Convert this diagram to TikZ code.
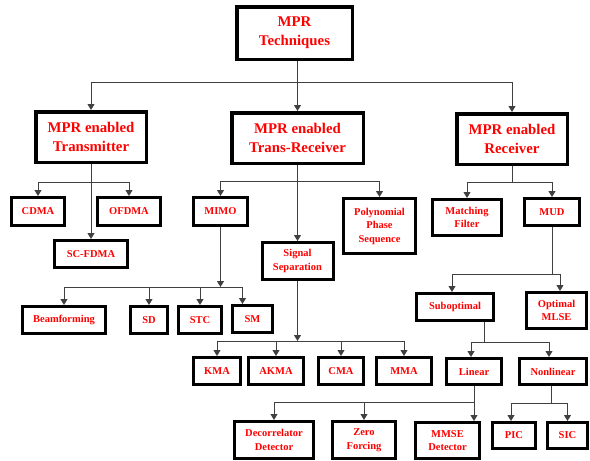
\documentclass[tikz,border=0pt]{standalone}
\usepackage{fontspec}
\setmainfont{Liberation Serif}
\usepackage{tikz}
\usetikzlibrary{arrows.meta}

\begin{document}
\begin{tikzpicture}
	[x=1pt,y=-1pt,>={Triangle[length=6pt,width=7pt]},
		main node/.style={rectangle,draw=black,line width=3.5pt,inner sep=0pt,align=center,text=red,
			font=\fontsize{14.8}{19}\selectfont\bfseries},
		leaf node/.style={rectangle,draw=black,line width=3pt,inner sep=0pt,align=center,text=red,
			font=\fontsize{10.5}{13.5}\selectfont\bfseries},
		link/.style={color=black!75,line width=1pt},
		hv/.style={to path={-| (\tikztotarget)}}]

	\useasboundingbox (0,0) rectangle (590,461);

	% top levels
	\node[main node, minimum width=115.5pt, minimum height=52.5pt] (T) at (294.5,33) {MPR\\Techniques};
	\node[main node, minimum width=110.5pt, minimum height=50.5pt] (TX) at (91,137) {MPR enabled\\Transmitter};
	\node[main node, minimum width=131.5pt, minimum height=50.5pt] (TRX) at (297.5,138) {MPR enabled\\Trans-Receiver};
	\node[main node, minimum width=110.5pt, minimum height=50.5pt] (RX) at (512,139) {MPR enabled\\Receiver};

	% transmitter side
	\node[leaf node, minimum width=53pt, minimum height=28pt] (CDMA) at (38,211.5) {CDMA};
	\node[leaf node, minimum width=63pt, minimum height=28pt] (OFDMA) at (129,211.5) {OFDMA};
	\node[leaf node, minimum width=73pt, minimum height=27pt] (SCFDMA) at (91,254) {SC-FDMA};

	% trans-receiver side
	\node[leaf node, minimum width=54pt, minimum height=28pt] (MIMO) at (220.5,211.5) {MIMO};
	\node[leaf node, minimum width=72pt, minimum height=55pt] (PPS) at (379.5,226) {Polynomial\\Phase\\Sequence};
	\node[leaf node, minimum width=71pt, minimum height=37pt] (SS) at (297.5,261) {Signal\\Separation};
	\node[leaf node, minimum width=83pt, minimum height=27pt] (BF) at (64,320) {Beamforming};
	\node[leaf node, minimum width=37pt, minimum height=27pt] (SD) at (149,320) {SD};
	\node[leaf node, minimum width=43pt, minimum height=27pt] (STC) at (200,320) {STC};
	\node[leaf node, minimum width=40pt, minimum height=27pt] (SM) at (252.5,319) {SM};
	\node[leaf node, minimum width=47pt, minimum height=27pt] (KMA) at (217,371) {KMA};
	\node[leaf node, minimum width=55pt, minimum height=27pt] (AKMA) at (276,371) {AKMA};
	\node[leaf node, minimum width=45pt, minimum height=27pt] (CMA) at (341,371) {CMA};
	\node[leaf node, minimum width=55pt, minimum height=27pt] (MMA) at (404,371) {MMA};

	% receiver side
	\node[leaf node, minimum width=69pt, minimum height=36pt] (MF) at (467,217.5) {Matching\\Filter};
	\node[leaf node, minimum width=55pt, minimum height=27pt] (MUD) at (552,212) {MUD};
	\node[leaf node, minimum width=77pt, minimum height=27pt] (SUB) at (455,307) {Suboptimal};
	\node[leaf node, minimum width=60pt, minimum height=36pt] (OPT) at (556.5,310.5) {Optimal\\MLSE};
	\node[leaf node, minimum width=55pt, minimum height=26pt] (LIN) at (474,371.5) {Linear};
	\node[leaf node, minimum width=67pt, minimum height=26pt] (NLIN) at (553,371.5) {Nonlinear};
	\node[leaf node, minimum width=79pt, minimum height=37pt] (DEC) at (274,440) {Decorrelator\\Detector};
	\node[leaf node, minimum width=63pt, minimum height=37pt] (ZF) at (364,440) {Zero\\Forcing};
	\node[leaf node, minimum width=64pt, minimum height=36pt] (MMSE) at (447.5,440.5) {MMSE\\Detector};
	\node[leaf node, minimum width=43pt, minimum height=26pt] (PIC) at (514,435.5) {PIC};
	\node[leaf node, minimum width=40pt, minimum height=26pt] (SIC) at (567.5,435.5) {SIC};

	% bus points
	\coordinate (b0) at (297.5,82);
	\coordinate (b1) at (91,182);
	\coordinate (b2) at (297.5,181);
	\coordinate (b3) at (220.5,287);
	\coordinate (b4) at (297.5,341);
	\coordinate (b5) at (512,182);
	\coordinate (b6) at (552,274);
	\coordinate (b7) at (484,342);
	\coordinate (b8) at (474,402);
	\coordinate (b9) at (551,403);

	\path[link,->]
	(T.south -| b0) edge (TRX.north)
	(b0) edge [hv] (TX.north)
	(b0) edge [hv] (RX.north)
	;
	\path[link,->]
	(TX.south) edge (SCFDMA.north)
	(b1) edge [hv] (CDMA.north)
	(b1) edge [hv] (OFDMA.north)
	;
	\path[link,->]
	(TRX.south) edge (SS.north)
	(b2) edge [hv] (MIMO.north)
	(b2) edge [hv] (PPS.north)
	;
	\path[link,->]
	(MIMO.south) edge (b3)
	(b3) edge [hv] (BF.north)
	(b3) edge [hv] (SD.north)
	(b3) edge [hv] (STC.north)
	(b3) edge [hv] ([xshift=-10pt]SM.north)
	;
	\path[link,->]
	(SS.south) edge (b4)
	(b4) edge [hv] (KMA.north)
	(b4) edge [hv] (AKMA.north)
	(b4) edge [hv] (CMA.north)
	(b4) edge [hv] (MMA.north)
	;
	\draw[link] (RX.south) -- (b5);
	\path[link,->]
	(b5) edge [hv] (MF.north)
	(b5) edge [hv] (MUD.north)
	;
	\draw[link] (MUD.south) -- (b6);
	\path[link,->]
	(b6) edge [hv] ([xshift=-3pt]SUB.north)
	(b6) edge [hv] ([xshift=3.5pt]OPT.north)
	;
	\draw[link] (SUB.south -| b7) -- (b7);
	\path[link,->]
	(b7) edge [hv] ([xshift=-3pt]LIN.north)
	(b7) edge [hv] ([xshift=-4pt]NLIN.north)
	;
	\path[link,->]
	(LIN.south) edge (MMSE.north -| LIN.south)
	(b8) edge [hv] (DEC.north)
	(b8) edge [hv] (ZF.north)
	;
	\draw[link] (NLIN.south -| b9) -- (b9);
	\path[link,->]
	(b9) edge [hv] ([xshift=-3pt]PIC.north)
	(b9) edge [hv] (SIC.north)
	;

\end{tikzpicture}
\end{document}
